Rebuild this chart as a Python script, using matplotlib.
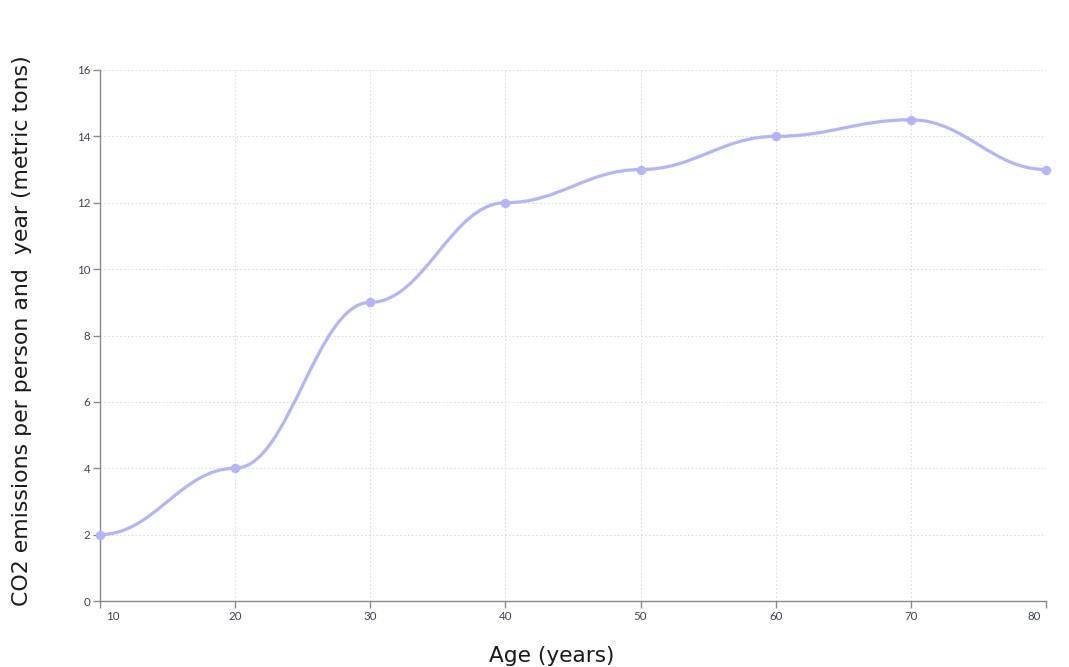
import matplotlib
matplotlib.use("Agg")
import matplotlib.pyplot as plt
from matplotlib.path import Path
from matplotlib.patches import PathPatch
from matplotlib.transforms import ScaledTranslation

ages = [10, 20, 30, 40, 50, 60, 70, 80]
emissions = [2, 4, 9, 12, 13, 14, 14.5, 13]
x_ticks = [10, 20, 30, 40, 50, 60, 70, 80]
y_ticks = [0, 2, 4, 6, 8, 10, 12, 14, 16]
x_title = "Age (years)"
y_title = "CO2 emissions per person and  year (metric tons)"

line_color = "#b3b4fb"
tick_color = "#3b4252"
axis_color = "#8a8a8a"
grid_color = "#dcdcdc"

fig = plt.figure(figsize=(10.69, 6.67), dpi=100)
ax = fig.add_axes([100 / 1069, 66 / 667, 946 / 1069, 531 / 667])

# smooth curve: cubic Bezier with horizontal handles at each point
f = 0.4
verts = [(ages[0], emissions[0])]
codes = [Path.MOVETO]
for i in range(len(ages) - 1):
    x0, y0 = ages[i], emissions[i]
    x1, y1 = ages[i + 1], emissions[i + 1]
    dx = x1 - x0
    verts += [(x0 + f * dx, y0), (x1 - f * dx, y1), (x1, y1)]
    codes += [Path.CURVE4] * 3
path = Path(verts, codes)
ax.add_patch(PathPatch(path, facecolor="none", edgecolor=line_color, lw=2.3,
                       capstyle="round", joinstyle="round", zorder=3, clip_on=False))
ax.plot(ages, emissions, linestyle="none", marker="o", markersize=5.8,
        color=line_color, zorder=4, clip_on=False)

ax.set_xlim(10, 80)
ax.set_ylim(0, 16)
ax.set_xticks(x_ticks)
ax.set_yticks(y_ticks)

for s in ["top", "right"]:
    ax.spines[s].set_visible(False)
for s in ["left", "bottom"]:
    ax.spines[s].set_color(axis_color)
    ax.spines[s].set_linewidth(1.0)

ax.grid(True, color=grid_color, linestyle=(0, (1.5, 2)), linewidth=0.8, zorder=0)
ax.set_axisbelow(True)

ax.tick_params(axis="both", length=5, width=1.0, color=axis_color,
               labelcolor=tick_color, labelsize=8.3, pad=2)
for lab in ax.get_xticklabels() + ax.get_yticklabels():
    lab.set_fontfamily("Lato")

xl = ax.get_xticklabels()
xl[0].set_ha("left")
xl[0].set_transform(xl[0].get_transform() + ScaledTranslation(6 / 100, 0, fig.dpi_scale_trans))
xl[-1].set_ha("right")
xl[-1].set_transform(xl[-1].get_transform() + ScaledTranslation(-5 / 100, 0, fig.dpi_scale_trans))

fig.text(552 / 1069, 1 - 656 / 667, x_title, ha="center", va="center",
         fontsize=15.6, family="DejaVu Sans", color="#1a1a1a")
fig.text(22 / 1069, 1 - 331 / 667, y_title, ha="center", va="center",
         rotation=90, fontsize=15.8, family="DejaVu Sans", color="#1a1a1a")

fig.savefig("out.png", dpi=100)
